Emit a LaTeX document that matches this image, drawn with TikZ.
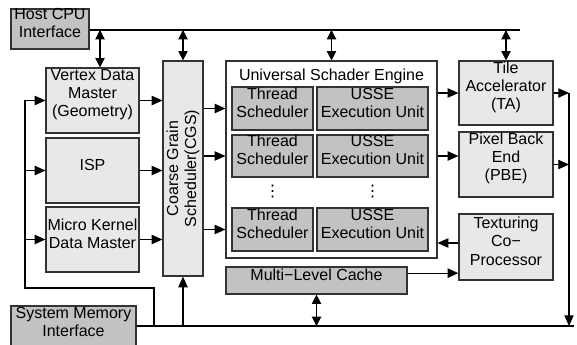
\documentclass[tikz,border=0pt]{standalone}
\usepackage{fontspec}
\setmainfont{Liberation Sans}
\newfontfamily\dotsfont{DejaVu Sans}
\usetikzlibrary{arrows.meta, fit}

\begin{document}
\begin{tikzpicture}[x=0.75pt, y=-0.75pt,
  font=\fontsize{12}{13.6}\selectfont,
  unit/.style={draw=black!80, line width=0.9pt, fill=black!9, inner sep=0pt, align=center},
  darkunit/.style={unit, fill=black!24},
  arr/.style={-{Triangle[length=8pt,width=7pt]}, line width=0.8pt},
  dblarr/.style={{Triangle[length=7pt,width=7pt]}-{Triangle[length=7pt,width=7pt]}, line width=0.8pt},
  bus/.style={line width=2pt}]

\useasboundingbox (0,0) rectangle (577,345);

% interfaces
\node[darkunit, fit={(11,9) (89,49)}] (host) {Host CPU\\Interface};
\node[darkunit, fit={(11,306) (136,350)}] (sysmem) {System Memory\\Interface};

% data masters
\node[unit, fit={(46,68) (139,133)}] (vdm) {Vertex Data\\Master\\(Geometry)};
\node[unit, fit={(46,138) (139,203)}] (isp) {ISP};
\node[unit, fit={(46,207) (139,272)}] (mkdm) {Micro Kernel\\Data Master};

% coarse grain scheduler
\node[unit, fit={(163,61) (203,276)}] (cgs) {};
\node[rotate=90, align=center] at (cgs) {Coarse Grain\\Scheduler(CGS)};

% universal shader engine
\node[unit, fill=white, fit={(226,61) (437,258)}] (use) {};
\node at (331.5,76) (usetitle) {Universal Schader Engine};
\node[darkunit, fit={(232,87) (313,130)}] (ts1) {Thread\\Scheduler};
\node[darkunit, fit={(317,87) (428,130)}] (eu1) {USSE\\Execution Unit};
\node[darkunit, fit={(232,135) (313,177)}] (ts2) {Thread\\Scheduler};
\node[darkunit, fit={(317,135) (428,177)}] (eu2) {USSE\\Execution Unit};
\node[darkunit, fit={(232,208) (313,251)}] (ts3) {Thread\\Scheduler};
\node[darkunit, fit={(317,208) (428,251)}] (eu3) {USSE\\Execution Unit};
\node[font=\dotsfont\fontsize{12}{13.6}\selectfont] at (272.5,192) (tsdots) {⋮};
\node[font=\dotsfont\fontsize{12}{13.6}\selectfont] at (372.5,192) (eudots) {⋮};

\node[darkunit, fit={(226,267) (407,294)}] (cache) {Multi\symbol{"2212}Level Cache};

% back end
\node[unit, fit={(459,61) (553,125)}] (ta) {Tile\\Accelerator\\(TA)};
\node[unit, fit={(459,132) (553,197)}] (pbe) {Pixel Back\\End\\(PBE)};
\node[unit, fit={(459,214) (553,280)}] (tex) {Texturing\\Co\symbol{"2212}\\Processor};

% buses
\coordinate (topend) at (520,30);
\coordinate (botend) at (574,326);
\draw[bus] (host.east |- topend) -- (topend);
\draw[bus] (sysmem.east |- botend) -- (botend);

\coordinate (hv) at (100,30);
\draw[dblarr] (hv) -- (hv |- vdm.north);
\draw[dblarr] (cgs.north |- topend) -- (cgs.north);
\draw[dblarr] (use.north |- topend) -- (use.north);
\draw[dblarr] (ta.north |- topend) -- (ta.north);
\draw[dblarr] (cache.south) -- (cache.south |- botend);
\draw[arr] (cgs.south |- botend) -- (cgs.south);

% feedback from memory
\coordinate (fbtap) at (154,326);
\coordinate (fbcorner) at (25,288);
\draw[line width=0.8pt] (fbtap) |- (fbcorner) -- (fbcorner |- vdm.west);
\foreach \b in {vdm, isp, mkdm}
  \draw[arr] (fbcorner |- \b.west) -- (\b.west);

% into the scheduler
\foreach \b in {vdm, isp, mkdm}
  \draw[arr] (\b.east) -- (\b.east -| cgs.west);
\foreach \r in {ts1, ts2, ts3}
  \draw[arr] (\r -| cgs.east) -- (\r -| use.west);

% engine to back end
\draw[arr] (ta.west -| use.east) -- (ta.west);
\draw[arr] (eu2.east -| use.east) -- (eu2.east -| pbe.west);
\draw[arr] ([yshift=3pt]tex.west) -- ([yshift=3pt]tex.west -| use.east);
\draw[arr] ([yshift=5.5pt]cache.east) -- ([yshift=5.5pt]cache.east -| tex.west);

% output line
\coordinate (rline) at (569,0);
\draw[arr] (rline |- ta.east) -- (rline |- botend);
\draw[arr] (ta.east) -- (rline |- ta.east);
\draw[arr] (pbe.east) -- (rline |- pbe.east);

\end{tikzpicture}
\end{document}
